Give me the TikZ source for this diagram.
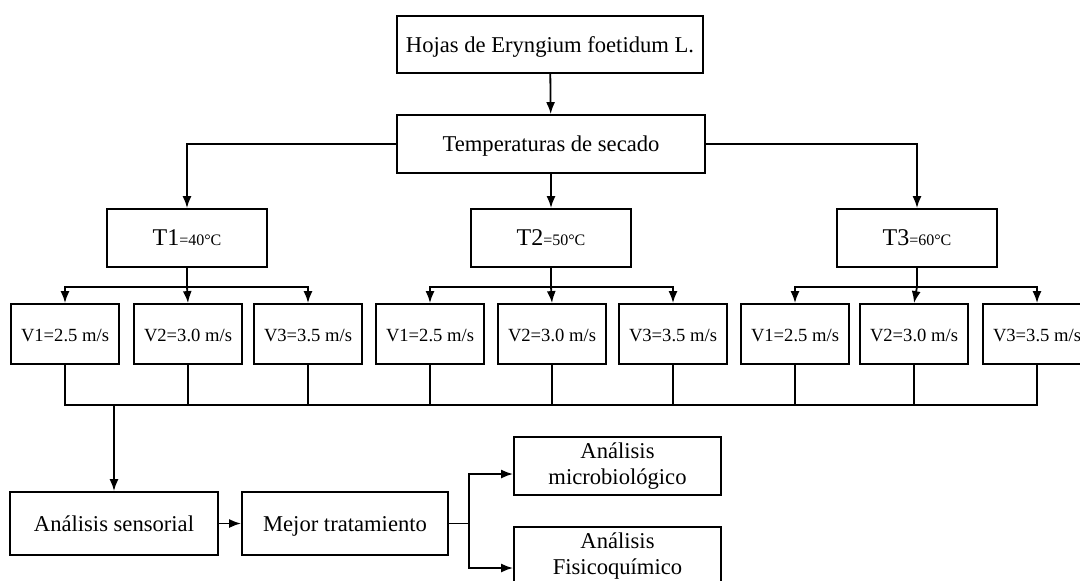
\documentclass[tikz,border=0pt]{standalone}
\usepackage{fontspec}
\setmainfont{Liberation Serif}
\usetikzlibrary{arrows.meta}
\begin{document}
\begin{tikzpicture}[x=0.5pt, y=-0.5pt, >={Latex[length=6pt,width=4.5pt]}, line width=0.9pt,
    caja/.style={draw, rectangle, align=center, inner sep=2pt, font=\fontsize{11.3}{13}\selectfont},
    linea/.style={text height=2.3ex, text depth=0.6ex},
    temp/.style={caja, linea, minimum width=80pt, minimum height=29pt, font=\fontsize{12}{14}\selectfont},
    vel/.style={caja, linea, minimum width=54pt, minimum height=30pt, font=\fontsize{9.3}{11}\selectfont}]
    \useasboundingbox (0,0) rectangle (1080,580);

    \node[caja, linea, minimum width=153pt, minimum height=28.5pt] (hojas) at (550,44.5) {Hojas de Eryngium foetidum L.};
    \node[caja, linea, minimum width=154pt, minimum height=29pt] (secado) at (551,144) {Temperaturas de secado};

    \node[temp] (t1) at (187,238) {T1{\fontsize{8}{10}\selectfont=40°C}};
    \node[temp] (t2) at (551,238) {T2{\fontsize{8}{10}\selectfont=50°C}};
    \node[temp] (t3) at (917,238) {T3{\fontsize{8}{10}\selectfont=60°C}};

    \node[vel] (v11) at (65,334) {V1=2.5 m/s};
    \node[vel] (v12) at (188,334) {V2=3.0 m/s};
    \node[vel] (v13) at (308,334) {V3=3.5 m/s};
    \node[vel] (v21) at (430,334) {V1=2.5 m/s};
    \node[vel] (v22) at (552,334) {V2=3.0 m/s};
    \node[vel] (v23) at (673,334) {V3=3.5 m/s};
    \node[vel] (v31) at (795,334) {V1=2.5 m/s};
    \node[vel] (v32) at (914,334) {V2=3.0 m/s};
    \node[vel] (v33) at (1037,334) {V3=3.5 m/s};

    \node[caja, linea, minimum width=104pt, minimum height=31.5pt] (sens) at (114,523.5) {Análisis sensorial};
    \node[caja, linea, minimum width=103pt, minimum height=31.5pt] (mejor) at (345,523.5) {Mejor tratamiento};
    \node[caja, minimum width=103.5pt, minimum height=29pt] (micro) at (617.5,466) {Análisis\\microbiológico};
    \node[caja, minimum width=103.5pt, minimum height=29pt] (fisico) at (617.5,556) {Análisis\\Fisicoquímico};

    \draw[->] (hojas) -- (secado);
    \draw[->] (secado.west) -| (t1.north);
    \draw[->] (secado) -- (t2);
    \draw[->] (secado.east) -| (t3.north);

    % temperaturas -> velocidades
    \draw (t1.south) -- ++(0,19) coordinate (j1);
    \draw[->] (j1) -| (v11.north); \draw[->] (j1) -- (v12.north); \draw[->] (j1) -| (v13.north);
    \draw (t2.south) -- ++(0,19) coordinate (j2);
    \draw[->] (j2) -| (v21.north); \draw[->] (j2) -- (v22.north); \draw[->] (j2) -| (v23.north);
    \draw (t3.south) -- ++(0,19) coordinate (j3);
    \draw[->] (j3) -| (v31.north); \draw[->] (j3) -- (v32.north); \draw[->] (j3) -| (v33.north);

    % linea colectora
    \coordinate (bus) at (0,405);
    \draw (v11.south) -- (v11.south |- bus) -- (v33.south |- bus) -- (v33.south);
    \draw (v12.south) -- (v12.south |- bus); \draw (v13.south) -- (v13.south |- bus);
    \draw (v21.south) -- (v21.south |- bus); \draw (v22.south) -- (v22.south |- bus); \draw (v23.south) -- (v23.south |- bus);
    \draw (v31.south) -- (v31.south |- bus); \draw (v32.south) -- (v32.south |- bus);
    \draw[->] (sens.north |- bus) -- (sens.north);

    \draw[->] (sens) -- (mejor);
    \draw (mejor.east) -- ++(20,0) coordinate (rama);
    \draw[->] (rama) |- ([yshift=-4pt]micro.west);
    \draw[->] (rama) |- ([yshift=-6pt]fisico.west);
\end{tikzpicture}
\end{document}
